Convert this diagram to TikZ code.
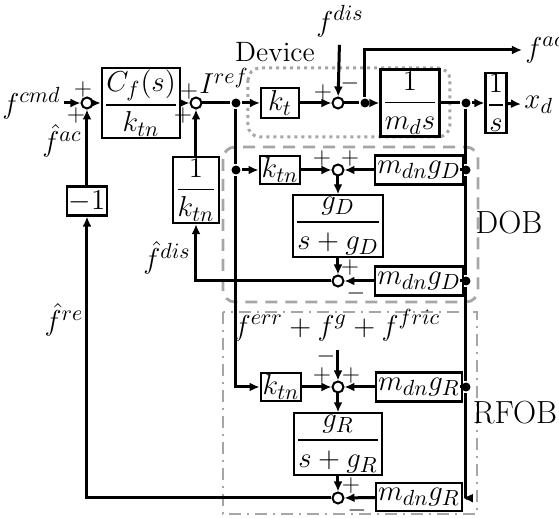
\documentclass[tikz,border=0pt]{standalone}
\usepackage{amsmath}
\usetikzlibrary{arrows.meta}
\tikzset{
  blk/.style={draw, line width=1.1pt, fill=white, inner sep=1pt},
  sumj/.style={draw, circle, line width=1pt, fill=white, inner sep=0pt, minimum size=5.5pt},
  dot/.style={fill, circle, inner sep=0pt, minimum size=4.5pt},
  sgn/.style={inner sep=0pt, font=\fontsize{12.5}{12.5}\selectfont},
  lbl/.style={font=\fontsize{16}{18}\selectfont},
  sig/.style={line width=1.5pt, -{Latex[length=5pt,width=4.5pt]}}
}
\begin{document}
\begin{tikzpicture}[x=0.5pt, y=-0.5pt, line width=1.5pt, font=\fontsize{15}{18}\selectfont]
    \useasboundingbox (0,0) rectangle (559,518);
    % frames
    \draw[gray!70, dotted, line width=1.5pt, rounded corners=6pt] (248,68) rectangle (450,137);
    \draw[gray!70, line width=1.4pt, dash pattern=on 6pt off 4pt, rounded corners=6pt] (223,147) rectangle (478,302);
    \draw[gray!70, line width=1.3pt, dash pattern=on 6pt off 3pt on 1pt off 3pt] (223,312) rectangle (477,514);
    \node[font=\fontsize{14}{16}\selectfont] at (275,52) {Device};
    \node[lbl] at (509,223) {DOB};
    \node[lbl] at (515,413) {RFOB};

    % main loop
    \node[left, inner sep=1pt] (fcmd) at (64,103) {$f^{cmd}$};
    \node[sumj] (s1) at (87,103) {};
    \node[blk, minimum width=31pt, minimum height=30pt] (cf) at (141,103) {$\dfrac{C_f(s)}{k_{tn}}$};
    \node[sumj] (s2) at (196,103) {};
    \node[dot] (j1) at (236,103) {};
    \node[blk, minimum width=19pt, minimum height=15pt] (kt) at (280,103) {$k_t$};
    \node[sumj] (s3) at (338,103) {};
    \node (fdis) at (340,21) {$f^{dis}$};
    \node[dot] (j2) at (365,103) {};
    \node[right, inner sep=1pt] (fac) at (522,50) {$f^{ac}$};
    \node[blk, minimum width=25pt, minimum height=30pt] (plant) at (410,103) {$\dfrac{1}{m_d s}$};
    \node[dot] (j3) at (466,103) {};
    \node[blk, minimum width=9pt, minimum height=30pt, inner sep=0.5pt] (integ) at (496,103) {$\dfrac{1}{s}$};
    \node[right, inner sep=1pt] (xd) at (521,105) {$x_d$};
    \node (iref) at (224,81) {$I^{ref}$};

    % DOB
    \node[dot] (j4) at (236,170) {};
    \node[blk, minimum width=19pt, minimum height=14pt] (ktnD) at (280,170) {$k_{tn}$};
    \node[sumj] (s4) at (338,170) {};
    \node[blk, minimum width=39pt, minimum height=14.5pt] (mgD1) at (419,170) {$m_{dn}g_D$};
    \node[dot] (j5) at (466,170) {};
    \node[blk, minimum width=37pt, minimum height=28pt] (qD) at (338,226) {$\dfrac{g_D}{s+g_D}$};
    \node[sumj] (s5) at (338,281) {};
    \node[blk, minimum width=39pt, minimum height=14.5pt] (mgD2) at (419,281) {$m_{dn}g_D$};
    \node[dot] (j6) at (466,281) {};
    \node[blk, minimum width=22pt, minimum height=32pt] (invk) at (196,190) {$\dfrac{1}{k_{tn}}$};
    \node (fdishat) at (167,258) {$\hat{f}^{dis}$};

    % RFOB
    \node (ferr) at (337,325) {$f^{err}+f^{g}+f^{fric}$};
    \coordinate (ferrend) at (338,350);
    \node[blk, minimum width=19pt, minimum height=14pt] (ktnR) at (281,387) {$k_{tn}$};
    \node[sumj] (s6) at (338,387) {};
    \node[blk, minimum width=39pt, minimum height=14.5pt] (mgR1) at (419,387) {$m_{dn}g_R$};
    \node[dot] (j7) at (466,387) {};
    \node[blk, minimum width=37pt, minimum height=28pt] (qR) at (338,444) {$\dfrac{g_R}{s+g_R}$};
    \node[sumj] (s7) at (338,498) {};
    \node[blk, minimum width=39pt, minimum height=14pt] (mgR2) at (419,497) {$m_{dn}g_R$};
    \coordinate (c1) at (466,498);
    \node[blk, minimum width=19pt, minimum height=14.5pt] (neg) at (87,201) {$-1$};
    \node (frehat) at (64,320) {$\hat{f}^{re}$};
    \node (fachat) at (62,141) {$\hat{f}^{ac}$};

    % signals
    \draw[sig] (fcmd) -- (s1);
    \draw[sig] (s1) -- (cf);
    \draw[sig] (cf) -- (s2);
    \draw (s2) -- (j1);
    \draw[sig] (j1) -- (kt);
    \draw[sig] (kt) -- (s3);
    \draw[sig] (fdis) -- (s3);
    \draw (s3) -- (j2);
    \draw[sig] (j2) -- (plant);
    \draw[sig] (j2) |- (fac);
    \draw (plant) -- (j3);
    \draw[sig] (j3) -- (integ);
    \draw[sig] (integ) -- (xd);
    \draw (j3) -- (j5) -- (j6) -- (j7) -- (c1);
    \draw (j1) -- (j4);
    \draw[sig] (j4) -- (ktnD);
    \draw[sig] (j4) |- (ktnR);
    \draw[sig] (ktnD) -- (s4);
    \draw (j5) -- (mgD1);
    \draw[sig] (mgD1) -- (s4);
    \draw[sig] (s4) -- (qD);
    \draw[sig] (qD) -- (s5);
    \draw (j6) -- (mgD2);
    \draw[sig] (mgD2) -- (s5);
    \draw[sig] (s5) -| (invk);
    \draw[sig] (invk) -- (s2);
    \draw[sig] (ktnR) -- (s6);
    \draw (j7) -- (mgR1);
    \draw[sig] (mgR1) -- (s6);
    \draw[sig] (ferrend) -- (s6);
    \draw[sig] (s6) -- (qR);
    \draw[sig] (qR) -- (s7);
    \draw[sig] (c1) -- (mgR2);
    \draw[sig] (mgR2) -- (s7);
    \draw[sig] (s7) -| (neg);
    \draw[sig] (neg) -- (s1);

    % signs
    \node[sgn] at (83,90) {$+$};
    \node[sgn] at (76,116) {$+$};
    \node[sgn] at (189,92) {$+$};
    \node[sgn] at (183,116) {$+$};
    \node[sgn] at (323,93) {$+$};
    \node[sgn] at (350,84) {$-$};
    \node[sgn] at (322,159) {$+$};
    \node[sgn] at (350,159) {$+$};
    \node[sgn] at (350,268) {$+$};
    \node[sgn] at (356,294) {$-$};
    \node[sgn] at (326,357) {$-$};
    \node[sgn] at (322,376) {$+$};
    \node[sgn] at (351,376) {$+$};
    \node[sgn] at (351,486) {$+$};
    \node[sgn] at (357,511) {$-$};
\end{tikzpicture}
\end{document}
